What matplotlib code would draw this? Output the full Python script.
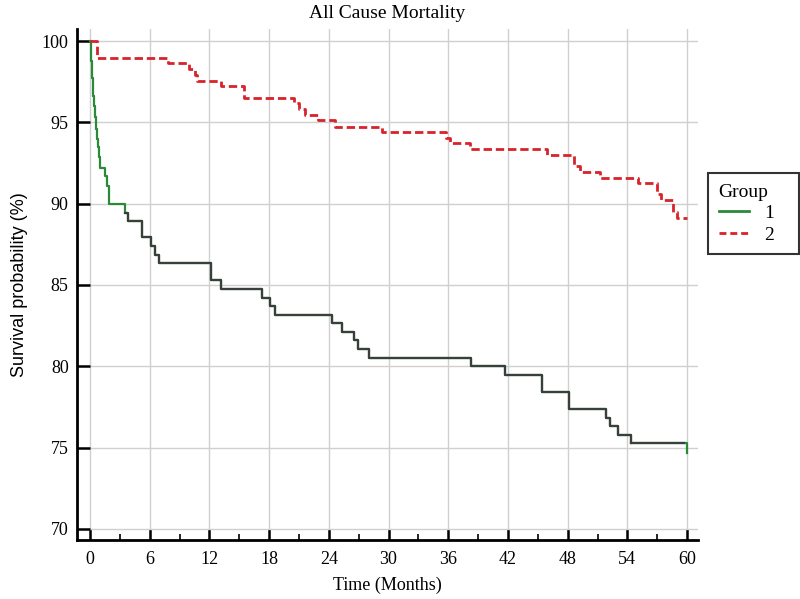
import matplotlib
matplotlib.use("Agg")
import matplotlib.pyplot as plt
import numpy as np
from matplotlib.ticker import MultipleLocator
from matplotlib.lines import Line2D

# ---- data (Kaplan-Meier steps) ----
g1_time = [0.0, 0.05, 0.1, 0.15, 0.2, 0.25, 0.3, 0.4, 0.5, 0.6, 0.7, 0.8, 0.9, 1.0,
           1.55, 1.75, 1.95, 3.5, 3.85, 5.2, 6.1, 6.5, 6.95, 12.2, 13.2, 17.25,
           18.1, 18.6, 24.3, 25.3, 26.5, 26.9, 28.0, 38.3, 41.7, 45.45, 48.1,
           51.9, 52.3, 53.1, 54.4, 60.0]
g1_surv = [100.0, 99.4, 98.8, 98.2, 97.7, 97.1, 96.6, 96.0, 95.3, 94.6, 94.0, 93.5, 92.9, 92.2,
           91.7, 91.1, 90.0, 89.45, 88.95, 87.93, 87.4, 86.84, 86.33, 85.3, 84.73, 84.2,
           83.7, 83.15, 82.64, 82.1, 81.6, 81.06, 80.53, 80.0, 79.46, 78.43, 77.37,
           76.85, 76.32, 75.79, 75.26, 74.7]

g2_time = [0.0, 0.67, 7.85, 9.9, 10.5, 10.8, 13.2, 15.5, 20.5, 21.0, 21.6, 22.9, 24.6,
           29.3, 35.8, 36.2, 38.2, 45.9, 48.6, 49.2, 51.3, 55.1, 57.0, 57.4, 58.6, 59.0, 60.0]
g2_surv = [100.0, 98.94, 98.63, 98.3, 97.9, 97.54, 97.23, 96.47, 96.2, 95.8, 95.45, 95.14, 94.73,
           94.38, 94.05, 93.7, 93.34, 92.99, 92.3, 91.92, 91.6, 91.25, 90.6, 90.22, 89.5, 89.13, 89.13]

x_ticks = [0, 6, 12, 18, 24, 30, 36, 42, 48, 54, 60]
y_ticks = [70, 75, 80, 85, 90, 95, 100]
group_labels = ["1", "2"]

SERIF = ["Liberation Serif", "DejaVu Serif"]
SANS = ["Liberation Sans", "DejaVu Sans"]

GREEN = "#2a8a3a"
DARK = "#3a3f3c"
RED = "#d8232a"

fig = plt.figure(figsize=(8.0, 5.99), dpi=100)
ax = fig.add_axes([77 / 800, 1 - 540 / 599, (698 - 77) / 800, (540 - 29) / 599])

ax.set_xlim(-1.31, 61.1)
ax.set_ylim(69.32, 100.74)

ax.set_xticks(x_ticks)
ax.xaxis.set_minor_locator(MultipleLocator(3))
ax.set_yticks(y_ticks)
ax.grid(True, which="major", color="#d0d0d0", linewidth=1.0)
ax.set_axisbelow(True)

for s in ["top", "right"]:
    ax.spines[s].set_visible(False)
for s in ["left", "bottom"]:
    ax.spines[s].set_linewidth(2.0)
    ax.spines[s].set_color("black")

ax.tick_params(axis="both", which="major", direction="in", length=8, width=1.8,
               labelsize=13, colors="black")
ax.tick_params(axis="x", which="minor", direction="in", length=4, width=1.2)
ax.tick_params(axis="y", which="major", length=9)
for lab in ax.get_xticklabels() + ax.get_yticklabels():
    lab.set_family(SERIF)
ax.tick_params(axis="x", pad=8)
ax.tick_params(axis="y", pad=6)

# group 1: green, overlaid dark in the middle section
t1 = np.array(g1_time)
s1 = np.array(g1_surv)
ax.step(t1, s1, where="post", color=GREEN, linewidth=1.6, zorder=3)
mask = (t1 >= 3.4) & (t1 <= 54.5)
ax.step(t1[mask], s1[mask], where="post", color=DARK, linewidth=1.6, zorder=4)
ax.plot([t1[mask][-1], t1[-1] - 0.3], [s1[mask][-1]] * 2, color=DARK, linewidth=1.6, zorder=4)

ax.step(g2_time, g2_surv, where="post", color=RED, linewidth=2.0,
        dashes=(3.0, 1.4), zorder=3)

ax.set_title("All Cause Mortality", fontsize=14, family=SERIF, pad=8)
ax.set_xlabel("Time (Months)", fontsize=13, family=SERIF, labelpad=6)
ax.set_ylabel("Survival probability (%)", fontsize=13, family=SANS, labelpad=10)

handles = [Line2D([], [], color=GREEN, linewidth=2.0),
           Line2D([], [], color=RED, linewidth=2.0, dashes=(2.5, 1.4))]
leg = fig.legend(handles, group_labels, title="Group", loc="upper left",
                 bbox_to_anchor=(708 / 800, 1 - 251 / 599, 91 / 800, 78 / 599),
                 mode="expand", borderaxespad=0,
                 prop={"family": SERIF, "size": 14},
                 title_fontproperties={"family": SERIF, "size": 14},
                 frameon=True, fancybox=False, edgecolor="black", handlelength=1.55,
                 borderpad=0.55, labelspacing=0.2, handletextpad=0.8)
leg._legend_box.align = "left"
leg.get_frame().set_linewidth(1.5)

fig.savefig("out.png", dpi=100)
